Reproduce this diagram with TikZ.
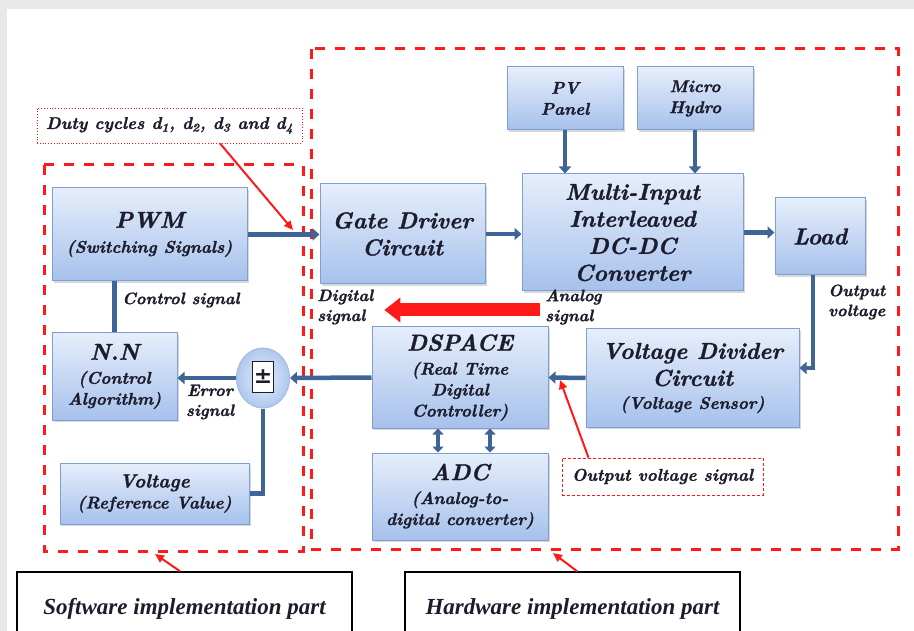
\documentclass[tikz,border=0pt]{standalone}
\usepackage{fontspec}
\setmainfont{Latin Modern Roman}[BoldItalicFeatures={FakeBold=1.3}]
\newfontfamily\timesf{Liberation Serif}
\newfontfamily\symf{DejaVu Sans}
\usetikzlibrary{arrows.meta,shapes.geometric,shadows}
\definecolor{boxtop}{HTML}{E6EEFB}
\definecolor{boxbot}{HTML}{A6C1EC}
\definecolor{bordc}{HTML}{7F9ED2}
\definecolor{linec}{HTML}{3F6496}
\definecolor{txtc}{HTML}{1C1C2C}
\definecolor{redc}{HTML}{FF1A1A}
\definecolor{bgc}{HTML}{E8E8E6}
\newcommand\subf{\fontsize{17}{21}\selectfont}
\newcommand\titlef{\fontsize{23}{27}\selectfont}
\tikzset{
  blk/.style={draw=bordc, line width=1pt, top color=boxtop, bottom color=boxbot,
    drop shadow={shadow xshift=2pt, shadow yshift=-2pt, opacity=0.3},
    align=center, inner sep=2pt, text=txtc, font=\fontsize{23}{27}\selectfont\bfseries\itshape},
  subtext/.style={font=\fontsize{17}{21}\selectfont\bfseries\itshape},
  conn/.style={draw=linec, line width=4.5pt, -{Triangle[length=7pt,width=12pt]}},
  plainconn/.style={draw=linec, line width=4.5pt},
  dconn/.style={draw=linec, line width=4.5pt, {Triangle[length=6pt,width=11pt]}-{Triangle[length=6pt,width=11pt]}},
  lbl/.style={text=txtc, inner sep=0pt, align=left, font=\fontsize{16.5}{20}\selectfont\bfseries\itshape},
  zone/.style={draw=redc, line width=3pt, dash pattern=on 10pt off 10pt},
  redarrow/.style={draw=redc, line width=2pt, -{Triangle[length=9pt,width=8pt]}},
  callout/.style={draw=redc, line width=0.8pt, fill=white, text=txtc, align=center,
    font=\fontsize{17}{20}\selectfont\bfseries\itshape},
  partbox/.style={draw=black, line width=1.6pt, fill=white, text=txtc,
    font=\timesf\fontsize{23}{26}\selectfont\bfseries\itshape}
}
\begin{document}
\begin{tikzpicture}[x=1pt,y=-1pt]
\useasboundingbox (0,0) rectangle (914,631);
\clip (0,0) rectangle (914,631);
\fill[bgc] (0,0) rectangle (914,631);
\fill[white] (7,9) rectangle (914,631);

% zones
\draw[zone] (311,49) rectangle (898,549);
\draw[zone] (44,165) rectangle (303,551);

% blocks
\node[blk, minimum width=195pt, minimum height=93pt] (pwm) at (149.5,234.5)
  {PWM\\[-2pt]{\subf(Switching Signals)}};
\node[blk, minimum width=165pt, minimum height=100pt] (gate) at (402.5,234)
  {Gate Driver\\Circuit};
\node[blk, minimum width=221pt, minimum height=117pt] (multi) at (632.5,232.5)
  {Multi-Input\\Interleaved\\DC-DC\\Converter};
\node[blk, minimum width=116pt, minimum height=63pt, subtext] (pv) at (565,98.5)
  {PV\\Panel};
\node[blk, minimum width=116pt, minimum height=63pt, subtext] (micro) at (695,98.5)
  {Micro\\Hydro};
\node[blk, minimum width=90pt, minimum height=77pt] (load) at (820,236.5) {Load};
\node[blk, minimum width=213pt, minimum height=98pt] (vd) at (692.5,378)
  {Voltage Divider\\Circuit\\[-4pt]{\subf(Voltage Sensor)}};
\node[blk, subtext, minimum width=176pt, minimum height=101pt] (dspace) at (460,377.5)
  {{\titlef DSPACE}\\[3pt](Real Time\\Digital\\Controller)};
\node[blk, subtext, minimum width=176pt, minimum height=87pt] (adc) at (460,496.5)
  {{\titlef ADC}\\[3pt](Analog-to-\\digital converter)};
\node[blk, subtext, minimum width=125pt, minimum height=87pt] (nn) at (114.5,376.5)
  {{\titlef N.N}\\[3pt](Control\\Algorithm)};
\node[blk, minimum width=189pt, minimum height=61pt, subtext] (vref) at (154.5,493.5)
  {{\fontsize{19}{21}\selectfont Voltage}\\(Reference Value)};

% summing junction
\node[ellipse, draw=bordc!70, line width=1pt, inner color=boxtop, outer color=boxbot!90,
  minimum width=53pt, minimum height=60pt] (sum) at (263,378) {};
\node[draw=txtc, line width=1pt, fill=white, minimum width=21pt, minimum height=30pt,
  inner sep=0pt, text=txtc, font=\symf\fontsize{22}{22}\selectfont\bfseries] (pm) at (263,377) {±};

% labels
\node[lbl, anchor=west] (ctrl) at (122,300) {Control signal};
\node[lbl, align=center] (err) at (210,402) {Error\\signal};
\node[lbl, anchor=west] (digital) at (317,307) {Digital\\signal};
\node[lbl, anchor=west] (analog) at (545,307) {Analog\\signal};
\node[lbl, anchor=west] (outv) at (828,302) {Output\\voltage};

% callouts
\node[callout, dotted, minimum width=265pt, minimum height=35pt] (duty) at (169.5,125.5)
  {Duty cycles d\textsubscript{1}, d\textsubscript{2}, d\textsubscript{3} and d\textsubscript{4}};
\node[callout, densely dashed, minimum width=201pt, minimum height=37pt] (ovs) at (662.5,476.5)
  {Output voltage signal};
\node[partbox, minimum width=335pt, minimum height=73pt] (sw) at (184.5,608.5)
  {\raisebox{-3pt}{Software implementation part}};
\node[partbox, minimum width=335pt, minimum height=73pt] (hw) at (572.5,608.5)
  {\raisebox{-3pt}{Hardware implementation part}};

\coordinate (dutytip) at (293,230);
\coordinate (ovstip) at (560,380);
\coordinate (swtip) at (155,554);
\coordinate (hwtip) at (553,553);

% connectors
\draw[conn] (pwm.east) -- (pwm.east -| gate.west);
\draw[conn] (gate.east) -- (gate.east -| multi.west);
\draw[conn] (pv.south) -- (pv.south |- multi.north);
\draw[conn] (micro.south) -- (micro.south |- multi.north);
\draw[conn] (multi.east) -- (multi.east -| load.west);
\draw[conn] ([xshift=-7pt]load.south) |- ([yshift=10pt]vd.east);
\draw[conn] (vd.west) -- (dspace.east);
\draw[conn] (dspace.west) -- (sum.east);
\draw[conn] (sum.west) -- (sum.west -| nn.east);
\draw[plainconn] (vref.east) -| (sum.south);
\draw[plainconn] (nn.north) -- (nn.north |- pwm.south);
\draw[dconn] ([xshift=-22pt]dspace.south) -- ([xshift=-22pt]adc.north);
\draw[dconn] ([xshift=30pt]dspace.south) -- ([xshift=30pt]adc.north);

% red arrows
\draw[redarrow] ([xshift=50.5pt]duty.south) -- (dutytip);
\draw[redarrow] ([xshift=-74pt]ovs.north) -- (ovstip);
\draw[redarrow] ([xshift=-4.5pt]sw.north) -- (swtip);
\draw[redarrow] ([xshift=4.5pt]hw.north) -- (hwtip);
\draw[draw=redc, line width=13pt, -{Triangle[length=16pt,width=24pt]}]
  ([xshift=-5pt,yshift=-3pt]analog.west) -- ([xshift=11pt,yshift=-3pt]digital.east);
\end{tikzpicture}
\end{document}
